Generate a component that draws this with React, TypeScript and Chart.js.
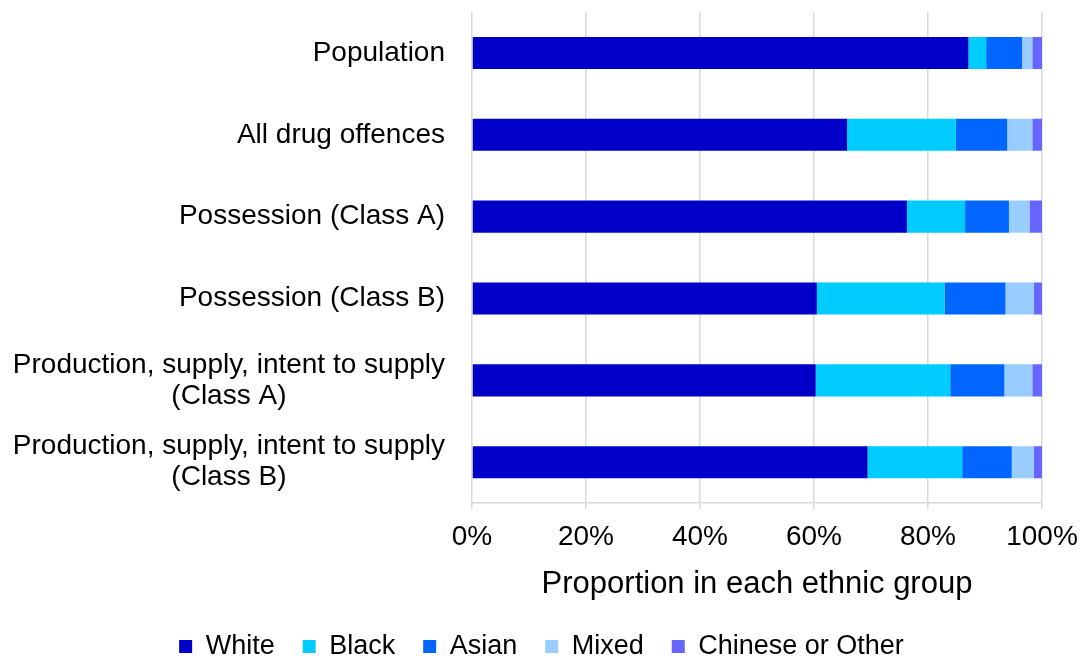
import React, { useEffect, useRef } from "react";
import { Chart, registerables } from "chart.js";

Chart.register(...registerables);

const categories: string[][] = [
  ["Population"],
  ["All drug offences"],
  ["Possession (Class A)"],
  ["Possession (Class B)"],
  ["Production, supply, intent to supply", "(Class A)"],
  ["Production, supply, intent to supply", "(Class B)"],
];

const white = [87.1, 65.8, 76.3, 60.5, 60.3, 69.4];
const black = [3.1, 19.1, 10.2, 22.4, 23.6, 16.6];
const asian = [6.3, 9.0, 7.7, 10.7, 9.5, 8.7];
const mixed = [1.8, 4.4, 3.6, 5.0, 4.9, 3.9];
const other = [1.7, 1.7, 2.2, 1.4, 1.7, 1.4];

const seriesNames = ["White", "Black", "Asian", "Mixed", "Chinese or Other"];
const seriesColors = ["#0000C8", "#00CCFF", "#0066FF", "#99CCFF", "#6666FF"];
const xTicks = [0, 20, 40, 60, 80, 100];

const FONT = "'Liberation Sans', Arial, sans-serif";

const yLabelPlugin = {
  id: "yLabelPlugin",
  afterDraw(chart: any) {
    const ctx = chart.ctx;
    const yScale = chart.scales.y;
    ctx.save();
    ctx.font = `28px ${FONT}`;
    ctx.fillStyle = "#000";
    ctx.textBaseline = "middle";
    ctx.textAlign = "center";
    const rightEdge = chart.chartArea.left - 27;
    const lineH = 31;
    categories.forEach((lines, i) => {
      const y = yScale.getPixelForValue(i);
      const maxW = Math.max(...lines.map((l) => ctx.measureText(l).width));
      const cx = rightEdge - maxW / 2;
      const startY = y - ((lines.length - 1) * lineH) / 2;
      lines.forEach((l, j) => ctx.fillText(l, cx, startY + j * lineH));
    });
    ctx.restore();
  },
};

export default function App() {
  const ref = useRef<HTMLCanvasElement | null>(null);
  useEffect(() => {
    if (!ref.current) return;
    const data = [white, black, asian, mixed, other];
    const chart = new Chart(ref.current, {
      type: "bar",
      data: {
        labels: categories.map((c) => c.join(" ")),
        datasets: seriesNames.map((name, i) => ({
          label: name,
          data: data[i],
          backgroundColor: seriesColors[i],
          borderWidth: 0,
          categoryPercentage: 0.8,
          barPercentage: 0.49,
        })),
      },
      options: {
        indexAxis: "y",
        animation: false,
        responsive: false,
        maintainAspectRatio: false,
        layout: { padding: { top: 12, right: 41, left: 41, bottom: -11 } },
        scales: {
          x: {
            stacked: true,
            min: 0,
            max: 100,
            afterBuildTicks: (s: any) => {
              s.ticks = xTicks.map((v) => ({ value: v }));
            },
            afterFit: (s: any) => {
              s.paddingRight = 0;
              s.paddingLeft = 0;
            },
            ticks: {
              callback: (v: any) => v + "%",
              color: "#000",
              font: { family: FONT, size: 28 },
              padding: 11,
              maxRotation: 0,
            },
            grid: { color: "#d9d9d9", lineWidth: 1.5, tickLength: 6, drawTicks: true },
            border: { display: true, color: "#d9d9d9", width: 1.5 },
            title: {
              display: true,
              text: "Proportion in each ethnic group",
              color: "#000",
              font: { family: FONT, size: 31 },
              padding: { top: 1, bottom: 2 },
            },
          },
          y: {
            stacked: true,
            ticks: { display: false },
            grid: { display: false },
            border: { display: false },
            afterFit: (s: any) => {
              s.width = 431;
            },
          },
        },
        plugins: {
          legend: {
            position: "bottom",
            labels: {
              boxWidth: 13,
              boxHeight: 13,
              color: "#000",
              font: { family: FONT, size: 27 },
              padding: 28,
            },
          },
          tooltip: { enabled: false },
        },
      },
      plugins: [yLabelPlugin],
    } as any);
    return () => chart.destroy();
  }, []);
  return (
    <div style={{ position: "fixed", left: 0, top: 0, width: 1083, height: 659, background: "#fff" }}>
      <canvas ref={ref} width={1083} height={659} style={{ width: 1083, height: 659 }} />
    </div>
  );
}
